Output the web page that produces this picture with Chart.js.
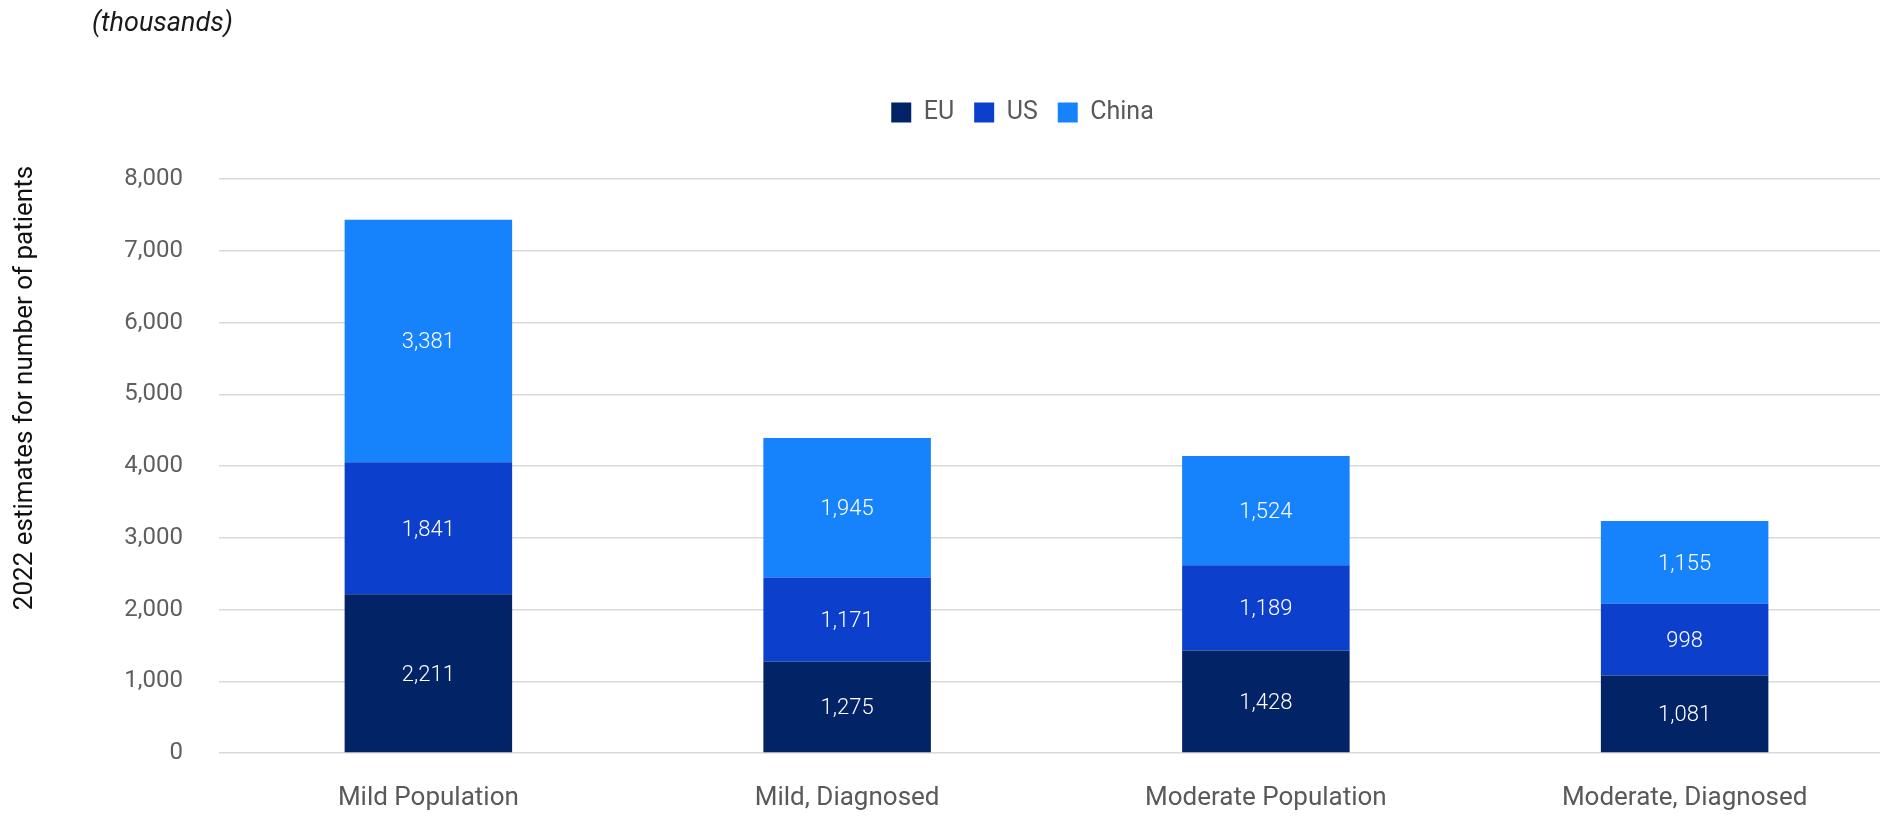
<!DOCTYPE html>
<html>
<head>
<meta charset="utf-8">
<script src="https://cdn.jsdelivr.net/npm/chart.js@4.4.1/dist/chart.umd.min.js"></script>
<style>
    body{ margin:0; background:#fff; overflow:hidden; }
    #caixa{ position:relative; width:1894px; height:817px; }
    #unidade{ position:absolute; left:92px; top:6px; font:italic 27px Roboto; line-height:32px; color:#1a1a1a; }
</style>
</head>
<body>
<div id="caixa">
    <div id="unidade">(thousands)</div>
    <canvas id="grafico"></canvas>
</div>
<script>
const categorias = ['Mild Population', 'Mild, Diagnosed', 'Moderate Population', 'Moderate, Diagnosed'];
const valores_eu = [2211, 1275, 1428, 1081];
const valores_us = [1841, 1171, 1189, 998];
const valores_china = [3381, 1945, 1524, 1155];
const series = ['EU', 'US', 'China'];
const cores = ['#022366', '#0c3fcc', '#1682fb'];
const y_min = 0;
const y_max = 8000;
const y_passo = 1000;
const titulo_y = '2022 estimates for number of patients';

const fmt = (v) => Number(v).toLocaleString('en-US');

// valores escritos no meio de cada segmento
const rotulos = {
    id: 'rotulos',
    afterDatasetsDraw(chart){
        const ctx = chart.ctx;
        ctx.save();
        ctx.fillStyle = '#ffffff';
        ctx.font = '300 22px Roboto';
        ctx.textAlign = 'center';
        ctx.textBaseline = 'middle';
        chart.data.datasets.forEach((ds, i) => {
            chart.getDatasetMeta(i).data.forEach((barra, j) => {
                let p = barra.getCenterPoint();
                ctx.fillText(fmt(ds.data[j]), p.x, p.y + 2);
            });
        });
        ctx.restore();
    }
};

// titulo do eixo y (nao fica centrado na area do grafico)
const tituloY = {
    id: 'tituloY',
    afterDraw(chart){
        const ctx = chart.ctx;
        ctx.save();
        ctx.translate(25, 388);
        ctx.rotate(-Math.PI / 2);
        ctx.font = '26px Roboto';
        ctx.fillStyle = '#111111';
        ctx.textAlign = 'center';
        ctx.textBaseline = 'middle';
        ctx.fillText(titulo_y, 0, 0);
        ctx.restore();
    }
};

// legenda mais alta e um pouco deslocada
const ajusteLegenda = {
    id: 'ajusteLegenda',
    afterInit(chart){
        const fit = chart.legend.fit;
        chart.legend.fit = function(){
            fit.call(this);
            this.height = 99;
        };
    },
    afterLayout(chart){
        chart.legend.left += 13;
        chart.legend.right += 13;
    }
};

const datasets = [valores_eu, valores_us, valores_china].map((dados, i) => ({
    label: series[i],
    data: dados,
    backgroundColor: cores[i],
    borderWidth: 0,
    barPercentage: 0.4,
    categoryPercentage: 1
}));

new Chart(document.getElementById('grafico'), {
    type: 'bar',
    data: {
        labels: categorias,
        datasets: datasets
    },
    options: {
        responsive: true,
        maintainAspectRatio: false,
        animation: false,
        layout: {
            padding: {left: 125, top: 80, right: 0, bottom: 0}
        },
        plugins: {
            tooltip: {enabled: false},
            legend: {
                position: 'top',
                labels: {
                    boxWidth: 20,
                    boxHeight: 20,
                    padding: 20,
                    color: '#595959',
                    font: {family: 'Roboto', size: 25}
                }
            }
        },
        scales: {
            x: {
                stacked: true,
                grid: {display: false},
                border: {display: false},
                ticks: {
                    color: '#595959',
                    padding: 22,
                    font: {family: 'Roboto', size: 26}
                },
                afterFit(s){ s.height = 64; }
            },
            y: {
                stacked: true,
                min: y_min,
                max: y_max,
                border: {display: false},
                grid: {color: '#d9d9d9', lineWidth: 1.5, drawTicks: false},
                ticks: {
                    stepSize: y_passo,
                    padding: 36,
                    color: '#5f5f5f',
                    font: {family: 'Roboto', size: 24},
                    callback: (v) => fmt(v)
                },
                afterFit(s){ s.width = 94; }
            }
        }
    },
    plugins: [rotulos, tituloY, ajusteLegenda]
});
</script>
</body>
</html>
